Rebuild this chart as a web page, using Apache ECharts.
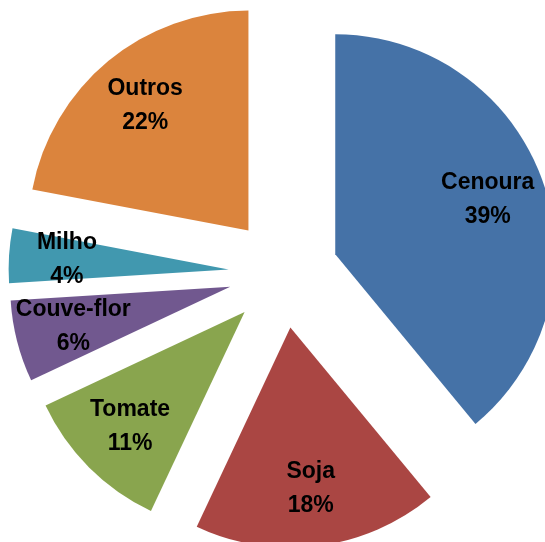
<!DOCTYPE html>
<html>
<head>
<meta charset="utf-8">
<script src="https://cdn.jsdelivr.net/npm/echarts@6/dist/echarts.min.js"></script>
<style>
html,body{margin:0;padding:0;background:#fff;}
#chart{width:545px;height:542px;}
</style>
</head>
<body>
<div id="chart"></div>
<script>
var categories = ['Cenoura', 'Soja', 'Tomate', 'Couve-flor', 'Milho', 'Outros'];
var values = [39, 18, 11, 6, 4, 22];
var colors = ['#4572A7', '#AA4643', '#89A54E', '#71588F', '#4198AF', '#DB843D'];

var chart = echarts.init(document.getElementById('chart'), null, {renderer: 'canvas'});

var sliceData = categories.map(function (c, i) {
  return {
    name: c, value: values[i], selected: true,
    itemStyle: {color: colors[i]},
    select: {itemStyle: {color: colors[i]}}
  };
});
var labelData = categories.map(function (c, i) {
  return {name: c, value: values[i], selected: true};
});

var center = [283.5, 273];
var offset = 55;
var font = "'Liberation Sans', Arial, sans-serif";

chart.setOption({
  animation: false,
  backgroundColor: '#ffffff',
  series: [
    {
      type: 'pie',
      center: center,
      radius: 220,
      startAngle: 90,
      clockwise: true,
      selectedMode: 'multiple',
      selectedOffset: offset,
      silent: true,
      label: {show: false},
      labelLine: {show: false},
      emphasis: {disabled: true},
      data: sliceData
    },
    {
      type: 'pie',
      center: center,
      radius: [40, 278],
      startAngle: 90,
      clockwise: true,
      selectedMode: 'multiple',
      selectedOffset: offset,
      silent: true,
      avoidLabelOverlap: false,
      minShowLabelAngle: 0,
      labelLayout: {hideOverlap: false},
      z: 5,
      itemStyle: {color: 'rgba(0,0,0,0)'},
      select: {itemStyle: {color: 'rgba(0,0,0,0)'}},
      emphasis: {disabled: true},
      labelLine: {show: false},
      label: {
        show: true,
        position: 'inside',
        formatter: function (p) { return p.name + '\n' + Math.round(p.percent) + '%'; },
        color: '#000',
        fontFamily: font,
        fontWeight: 'bold',
        fontSize: 23,
        lineHeight: 34,
        align: 'center'
      },
      data: labelData
    }
  ]
});
</script>
</body>
</html>
